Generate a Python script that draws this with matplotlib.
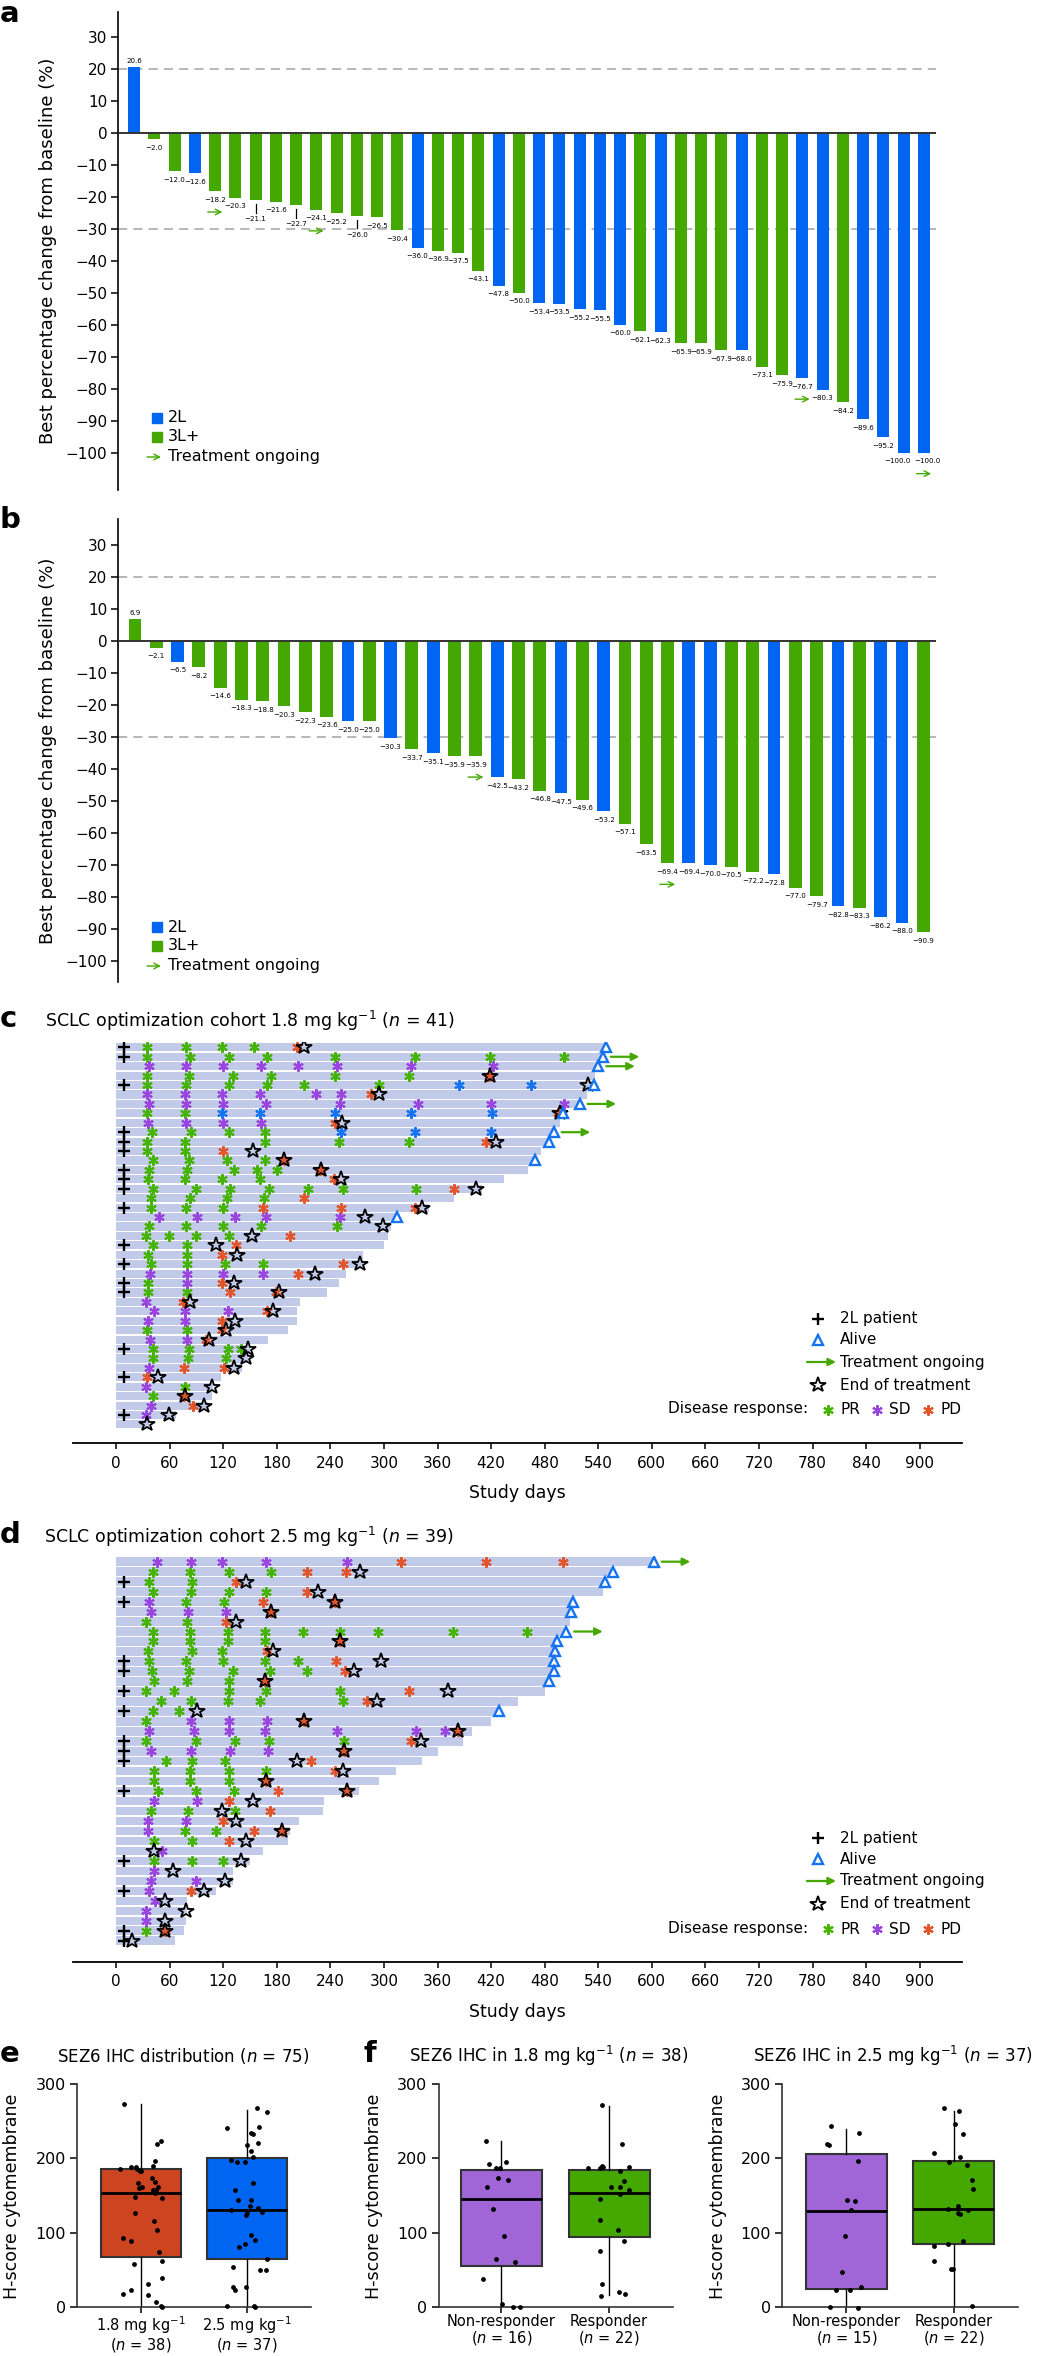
import numpy as np
import matplotlib.pyplot as plt

W, H = 1047, 2356
plt.rcParams['font.family'] = ['DejaVu Sans']
plt.rcParams['mathtext.fontset'] = 'dejavusans'

BLUE = '#0066F2'
GREEN = '#45A800'
LIGHT = '#C2CAE9'
C_PR = '#45B400'
C_SD = '#9A45DE'
C_PD = '#E2552B'
C_CR = '#1673F0'
DASH = '#A3A3A3'
BOX_18 = '#CC4420'
BOX_NR = '#A066D8'

# ---------------- panel a: waterfall, 1.8 mg/kg ----------------
a_values = [20.6, -2.0, -12.0, -12.6, -18.2, -20.3, -21.1, -21.6, -22.7, -24.1,
            -25.2, -26.0, -26.5, -30.4, -36.0, -36.9, -37.5, -43.1, -47.8, -50.0,
            -53.4, -53.5, -55.2, -55.5, -60.0, -62.1, -62.3, -65.9, -65.9, -67.9,
            -68.0, -73.1, -75.9, -76.7, -80.3, -84.2, -89.6, -95.2, -100.0, -100.0]
a_second_line = [0, 3, 14, 18, 20, 21, 22, 23, 24, 26, 30, 33, 34, 36, 37, 38, 39]
a_ongoing = [4, 9, 33, 39]
a_dropped = [6, 8, 11]

# ---------------- panel b: waterfall, 2.5 mg/kg ----------------
b_values = [6.9, -2.1, -6.5, -8.2, -14.6, -18.3, -18.8, -20.3, -22.3, -23.6,
            -25.0, -25.0, -30.3, -33.7, -35.1, -35.9, -35.9, -42.5, -43.2, -46.8,
            -47.5, -49.6, -53.2, -57.1, -63.5, -69.4, -69.4, -70.0, -70.5, -72.2,
            -72.8, -77.0, -79.7, -82.8, -83.3, -86.2, -88.0, -90.9]
b_second_line = [2, 10, 12, 14, 17, 20, 22, 26, 27, 30, 33, 35, 36]
b_ongoing = [16, 25]
b_dropped = []

# ---------------- panel c: swimmer, 1.8 mg/kg ----------------
c_length = [549, 545, 540, 536, 535, 527, 519, 500, 497, 490,
            485, 476, 469, 461, 434, 410, 378, 350, 315, 308,
            305, 300, 277, 276, 257, 250, 236, 206, 203, 203,
            192, 170, 150, 148, 141, 117, 109, 107, 103, 67, 37]
c_second_line = [0, 1, 4, 9, 10, 11, 13, 14, 15, 17, 21, 23, 25, 26, 32, 35, 39]
c_pr = [(0, 35), (0, 78), (0, 119), (0, 155),
        (1, 35), (1, 83), (1, 126), (1, 169), (1, 245), (1, 335), (1, 419), (1, 502),
        (3, 35), (3, 82), (3, 131), (3, 173), (3, 245), (3, 328),
        (4, 35), (4, 78), (4, 127), (4, 169), (4, 211), (4, 295),
        (7, 35), (7, 77),
        (9, 40), (9, 84), (9, 126), (9, 167),
        (10, 35), (10, 77), (10, 167), (10, 250), (10, 328),
        (11, 35), (11, 77),
        (12, 41), (12, 82), (12, 124), (12, 167),
        (13, 37), (13, 80), (13, 132), (13, 158), (13, 180),
        (14, 36), (14, 77), (14, 119), (14, 161),
        (15, 41), (15, 89), (15, 128), (15, 171), (15, 215), (15, 254), (15, 336),
        (16, 39), (16, 83), (16, 124), (16, 166),
        (17, 39), (17, 78), (17, 120),
        (19, 37), (19, 78), (19, 120), (19, 162), (19, 247),
        (20, 34), (20, 59), (20, 90), (20, 126),
        (21, 41), (21, 79),
        (22, 36), (22, 79),
        (23, 39), (23, 79), (23, 122), (23, 164),
        (25, 36),
        (26, 36), (26, 80),
        (30, 35), (30, 79),
        (32, 41), (32, 82), (32, 125), (32, 140),
        (33, 41), (33, 81), (33, 123),
        (36, 77), (37, 41)]
c_sd = [(2, 37), (2, 78), (2, 120), (2, 162), (2, 204), (2, 247), (2, 330), (2, 422),
        (5, 35), (5, 77), (5, 119), (5, 161), (5, 224), (5, 252),
        (6, 37), (6, 78), (6, 120), (6, 168), (6, 251), (6, 338), (6, 420), (6, 502),
        (8, 36), (8, 78), (8, 120), (8, 162),
        (18, 48), (18, 91), (18, 133), (18, 168), (18, 251),
        (24, 38), (24, 80), (24, 120), (24, 165),
        (25, 79), (27, 34), (28, 42), (28, 77), (28, 125), (29, 36), (29, 77),
        (31, 38), (31, 80), (34, 37), (36, 34), (38, 39), (39, 34)]
c_pd = [(0, 203), (3, 418), (5, 286), (7, 495), (8, 245), (10, 414), (11, 120),
        (12, 188), (13, 228), (14, 244), (15, 378), (16, 211), (17, 165), (17, 252),
        (17, 335), (20, 195), (21, 134), (22, 119), (23, 254), (24, 204), (25, 119),
        (26, 128), (26, 179), (27, 75), (28, 169), (29, 119), (30, 119), (31, 101),
        (34, 76), (34, 121), (35, 35), (37, 76), (38, 86)]
c_cr = [(4, 384), (4, 465), (7, 119), (7, 161), (7, 245), (7, 330), (7, 421),
        (9, 252), (9, 335), (9, 420)]
c_eot = [(0, 210), (3, 419), (4, 529), (5, 294), (7, 497), (8, 253), (10, 425),
         (11, 153), (12, 188), (13, 230), (14, 252), (15, 403), (17, 343), (18, 279),
         (19, 299), (20, 152), (21, 112), (22, 135), (23, 273), (24, 223), (25, 132),
         (26, 183), (27, 83), (28, 176), (29, 133), (30, 123), (31, 104), (32, 148),
         (33, 146), (34, 132), (35, 47), (36, 107), (37, 77), (38, 98), (39, 59), (40, 35)]
c_alive = [0, 1, 2, 4, 6, 7, 9, 10, 12, 18]
c_ongoing = [1, 2, 6, 9]

# ---------------- panel d: swimmer, 2.5 mg/kg ----------------
d_length = [602, 556, 547, 545, 512, 510, 508, 504, 494, 492,
            490, 490, 485, 480, 450, 429, 420, 399, 388, 361,
            343, 314, 295, 272, 233, 232, 205, 195, 193, 164,
            150, 131, 131, 112, 80, 80, 78, 76, 66]
d_second_line = [2, 4, 10, 11, 13, 15, 18, 19, 20, 23, 30, 33, 37, 38]
d_pr = [(1, 41), (1, 83), (1, 127), (1, 174),
        (2, 37), (2, 85),
        (3, 41), (3, 84), (3, 126), (3, 168),
        (4, 78), (4, 121),
        (6, 34), (6, 80),
        (7, 41), (7, 83), (7, 125), (7, 167), (7, 209), (7, 251), (7, 293), (7, 377), (7, 460),
        (8, 41), (8, 83), (8, 125), (8, 167),
        (9, 36), (9, 85), (9, 119),
        (10, 37), (10, 78), (10, 120), (10, 167), (10, 204),
        (11, 40), (11, 82), (11, 131), (11, 172), (11, 214),
        (12, 42), (12, 80), (12, 126),
        (13, 34), (13, 65), (13, 127), (13, 168), (13, 251),
        (14, 50), (14, 84), (14, 125), (14, 161), (14, 254),
        (15, 41), (15, 71),
        (16, 34),
        (18, 34), (18, 90), (18, 133), (18, 171), (18, 255),
        (20, 56), (20, 85), (20, 122),
        (21, 42), (21, 83), (21, 126), (21, 168),
        (22, 43), (22, 83), (22, 126),
        (23, 47), (23, 90), (23, 132),
        (25, 39), (25, 81), (25, 133),
        (27, 77), (27, 112),
        (28, 43), (28, 85),
        (30, 43), (30, 85), (30, 120),
        (37, 34)]
d_sd = [(0, 46), (0, 84), (0, 119), (0, 168), (0, 259),
        (4, 37), (5, 39), (5, 81), (5, 123),
        (16, 84), (16, 126), (16, 169),
        (17, 37), (17, 87), (17, 126), (17, 167), (17, 247), (17, 336), (17, 368),
        (19, 39), (19, 84), (19, 128), (19, 170),
        (24, 43), (24, 91), (26, 36), (26, 78), (27, 36), (29, 51),
        (31, 42), (32, 39), (32, 90), (33, 37), (34, 44), (35, 34), (36, 33)]
d_pd = [(0, 319), (0, 414), (0, 500), (1, 214), (1, 257), (2, 134), (3, 214),
        (4, 165), (4, 245), (5, 174), (6, 123), (8, 251), (9, 169), (10, 246),
        (11, 256), (12, 167), (13, 328), (14, 281), (16, 211), (17, 383), (18, 330),
        (19, 255), (20, 218), (21, 245), (22, 168), (23, 181), (23, 259), (24, 126),
        (25, 172), (26, 120), (27, 155), (27, 186), (28, 126), (33, 84), (37, 55)]
d_cr = []
d_eot = [(1, 273), (2, 145), (3, 226), (4, 245), (5, 174), (6, 134), (8, 251),
         (9, 176), (10, 297), (11, 266), (12, 167), (13, 372), (14, 292), (15, 91),
         (16, 211), (17, 383), (18, 342), (19, 255), (20, 203), (21, 254), (22, 168),
         (23, 259), (24, 153), (25, 119), (26, 134), (27, 186), (28, 145), (29, 43),
         (30, 140), (31, 64), (32, 122), (33, 99), (34, 55), (35, 78), (36, 55),
         (37, 55), (38, 18)]
d_alive = [0, 1, 2, 4, 5, 7, 8, 9, 10, 11, 12, 15]
d_ongoing = [0, 7]

# ---------------- panel e / f: SEZ6 H-score ----------------
e_labels = ['1.8 mg kg$^{-1}$\n($n$ = 38)', '2.5 mg kg$^{-1}$\n($n$ = 37)']
e_stats = [dict(q1=67.5, med=153.8, q3=185.4, whislo=0, whishi=273),
           dict(q1=64.8, med=130.5, q3=200.2, whislo=0, whishi=265)]
e18_vals = [274, 219, 224, 186, 188, 189, 186, 183, 196, 190, 174, 167, 168, 160,
            161, 161, 154, 157, 148, 147, 127, 116, 103, 92, 88, 74, 58, 62, 31, 39,
            17, 22, 16, 7, 1, 0, 157, 183]
e18_jit = [-0.158, 0.149, 0.190, -0.190, -0.089, -0.048, -0.032, -0.010, 0.133, 0.117,
           0.111, -0.025, 0.133, -0.016, 0.016, 0.165, 0.133, 0.145, -0.057, 0.196,
           -0.054, 0.127, 0.158, -0.168, -0.089, 0.168, -0.063, 0.200, 0.073, 0.196,
           -0.165, -0.089, 0.073, 0.143, 0.190, 0.200, 0.117, 0.0]
e25_vals = [241, 268, 263, 243, 234, 233, 218, 221, 210, 202, 198, 195, 195, 167,
            157, 144, 144, 136, 133, 130, 128, 124, 127, 97, 90, 80, 84, 64, 49, 49,
            53, 27, 23, 26, 1, 1, 0]
e25_jit = [-0.190, 0.089, 0.190, 0.114, 0.041, 0.051, 0.0, 0.105, 0.041, 0.057,
           -0.149, -0.092, -0.016, 0.051, -0.117, -0.086, 0.041, 0.025, 0.105, -0.149,
           0.143, -0.006, 0.0, 0.032, 0.073, -0.076, -0.016, 0.184, 0.120, 0.177,
           -0.133, -0.133, -0.117, -0.006, -0.190, 0.063, 0.073]

f_labels = ['Non-responder\n($n$ = 16)', 'Responder\n($n$ = 22)']
f18_stats = [dict(q1=54.9, med=144.8, q3=184.4, whislo=0, whishi=224),
             dict(q1=93.6, med=152.9, q3=184.4, whislo=15.7, whishi=271)]
f18_nr_vals = [223, 193, 187, 187, 195, 173, 171, 162, 132, 95, 64, 60, 37, 4, 0, 0]
f18_nr_jit = [-0.144, -0.119, -0.047, -0.016, 0.044, -0.034, 0.063, -0.135, -0.082,
              0.028, -0.050, 0.125, -0.172, 0.006, 0.110, 0.176]
f18_r_vals = [272, 219, 187, 187, 190, 188, 183, 170, 161, 161, 157, 152, 145, 117,
              103, 89, 75, 31, 15, 20, 17, 189]
f18_r_jit = [-0.068, 0.120, -0.194, -0.084, -0.065, 0.184, 0.097, 0.142, 0.013, 0.104,
             0.184, 0.097, -0.084, -0.081, 0.078, 0.142, -0.084, -0.068, -0.074, 0.087,
             0.146, -0.060]

g_labels = ['Non-responder\n($n$ = 15)', 'Responder\n($n$ = 22)']
f25_stats = [dict(q1=24.3, med=129.1, q3=205.6, whislo=0, whishi=239.8),
             dict(q1=84.6, med=132.0, q3=197.0, whislo=0, whishi=264)]
f25_nr_vals = [244, 219.5, 218, 234, 197, 144, 143, 130, 96, 47, 22.5, 23, 26, 0, -2]
f25_nr_jit = [-0.140, -0.179, -0.163, 0.114, 0.104, 0.007, 0.081, 0.039, -0.010,
              -0.042, -0.098, 0.033, 0.137, -0.156, 0.104]
f25_r_vals = [268, 264.5, 246, 233, 208, 202, 195, 191, 171, 159, 136, 132, 130, 126,
              125, 89, 82, 85, 62, 51, 51, 1]
f25_r_jit = [-0.088, 0.055, 0.010, 0.091, -0.186, 0.059, -0.039, 0.130, 0.169, 0.186,
             0.042, -0.055, 0.137, 0.042, 0.059, 0.091, -0.186, -0.049, -0.179, -0.023,
             -0.007, 0.173]


fig = plt.figure(figsize=(W / 100, H / 100), dpi=100)


def px_axes(l, t, r, b):
    return fig.add_axes([l / W, 1 - b / H, (r - l) / W, (b - t) / H])


def fmt(v):
    return f'{v:.1f}'.replace('-', '\u2212')


def waterfall(ax, values, second_line, ongoing, dropped, ylim, shifts=None):
    shifts = shifts or {}
    x = np.arange(len(values))
    cols = [BLUE if i in second_line else GREEN for i in x]
    ax.bar(x, values, width=0.6, color=cols, zorder=2)
    for ref in (20, -30):
        ax.axhline(ref, color=DASH, lw=1.1, dashes=(6, 4), zorder=1)
    ax.axhline(0, color='#333333', lw=1.4, zorder=3)
    for i, v in enumerate(values):
        tx = i + shifts.get(i, 0)
        if v > 0:
            ax.text(tx, v + 1.9, fmt(v), ha='center', va='center', fontsize=5.1)
        elif i in dropped:
            ax.plot([i, i], [v - 1.3, v - 3.9], color='k', lw=0.9)
            ax.text(tx, v - 5.9, fmt(v), ha='center', va='center', fontsize=5.1)
        else:
            ax.text(tx, v - 2.7, fmt(v), ha='center', va='center', fontsize=5.1)
    for i in ongoing:
        v = values[i]
        ax.annotate('', xy=(i + 0.36, v - 6.6), xytext=(i - 0.36, v - 6.6),
                    arrowprops=dict(arrowstyle='->', color=GREEN, lw=1.0,
                                    shrinkA=0, shrinkB=0))
    ax.set_xlim(-0.78, len(values) - 1 + 0.6)
    ax.set_ylim(*ylim)
    ax.set_yticks(np.arange(-100, 31, 10))
    ax.set_xticks([])
    for s in ('top', 'right', 'bottom'):
        ax.spines[s].set_visible(False)
    ax.spines['left'].set_linewidth(1.2)
    ax.tick_params(axis='y', length=5, width=1.1, labelsize=11, pad=3)


def swimmer(ax, lengths, second_line, pr, sd, pdis, cr, eot, alive, ongoing, ybottom):
    rows = np.arange(len(lengths))
    ax.barh(rows, lengths, height=0.86, color=LIGHT, zorder=1)
    ax.plot(np.full(len(second_line), 9), second_line, ls='none', marker='+',
            ms=8, mew=1.7, color='k', zorder=5)
    for pts, col in ((pr, C_PR), (sd, C_SD), (pdis, C_PD), (cr, C_CR)):
        if pts:
            r, d = zip(*pts)
            ax.plot(d, r, ls='none', marker=(6, 2, 0), ms=7.5, mew=1.5,
                    color=col, zorder=3)
    r, d = zip(*eot)
    ax.plot(d, r, ls='none', marker='*', ms=11.5, mfc='none', mec='k', mew=1.3, zorder=4)
    al = np.array(alive)
    ax.plot(np.array(lengths)[al], al, ls='none', marker='^', ms=7, mfc='white',
            mec=C_CR, mew=1.7, zorder=4)
    for r in ongoing:
        L = lengths[r]
        ax.annotate('', xy=(L + 41, r), xytext=(L + 9, r),
                    arrowprops=dict(arrowstyle='-|>', color=GREEN, lw=1.6,
                                    mutation_scale=11, shrinkA=0, shrinkB=0))
    ax.set_xlim(-48, 947)
    ax.set_ylim(ybottom, -0.6)
    ax.set_xticks(np.arange(0, 901, 60))
    ax.set_yticks([])
    for s in ('top', 'right', 'left'):
        ax.spines[s].set_visible(False)
    ax.spines['bottom'].set_linewidth(1.3)
    ax.tick_params(axis='x', length=4, width=1.1, labelsize=11, pad=5)


def boxpanel(ax, stats, colors, vals, jits, labels, xlim):
    bx = ax.bxp(stats, positions=[0, 1], widths=0.75, patch_artist=True,
                showfliers=False, showcaps=False,
                boxprops=dict(linewidth=1.5, edgecolor='#333333'),
                medianprops=dict(color='black', linewidth=2),
                whiskerprops=dict(color='black', linewidth=1.0))
    for patch, c in zip(bx['boxes'], colors):
        patch.set_facecolor(c)
    for i, (v, j) in enumerate(zip(vals, jits)):
        ax.scatter(i + np.array(j), v, s=12, color='black', zorder=4, clip_on=False,
                   linewidths=0)
    ax.set_xlim(*xlim)
    ax.set_ylim(0, 300)
    ax.set_yticks([0, 100, 200, 300])
    ax.set_xticks([0, 1])
    ax.set_xticklabels(labels, fontsize=10.5, linespacing=1.0)
    for s in ('top', 'right'):
        ax.spines[s].set_visible(False)
    for s in ('left', 'bottom'):
        ax.spines[s].set_linewidth(1.2)
        ax.spines[s].set_color('#333333')
    ax.tick_params(axis='y', length=5, width=1.1, labelsize=11.5, pad=3)
    ax.tick_params(axis='x', length=4, width=1.1, pad=1.5)


ax_a = px_axes(118.3, 11.7, 936, 490)
waterfall(ax_a, a_values, a_second_line, a_ongoing, a_dropped, (-111.7, 37.8),
          shifts={38: -0.3, 39: 0.15})
ax_b = px_axes(118.3, 519.3, 936, 982)
waterfall(ax_b, b_values, b_second_line, b_ongoing, b_dropped, (-106.5, 38.0))

ax_c = px_axes(73.2, 1041.7, 961.7, 1443.3)
swimmer(ax_c, c_length, c_second_line, c_pr, c_sd, c_pd, c_cr, c_eot, c_alive,
        c_ongoing, 42.0)
ax_d = px_axes(73.2, 1555.7, 961.7, 1961.7)
swimmer(ax_d, d_length, d_second_line, d_pr, d_sd, d_pd, d_cr, d_eot, d_alive,
        d_ongoing, 40.1)

ax_e = px_axes(77.1, 2084.3, 311, 2306.7)
boxpanel(ax_e, e_stats, [BOX_18, BLUE], [e18_vals, e25_vals], [e18_jit, e25_jit],
         e_labels, (-0.597, 1.6))
ax_f1 = px_axes(438.5, 2084.3, 673.4, 2306.7)
boxpanel(ax_f1, f18_stats, [BOX_NR, GREEN], [f18_nr_vals, f18_r_vals],
         [f18_nr_jit, f18_r_jit], f_labels, (-0.583, 1.596))
ax_f2 = px_axes(781.9, 2084.3, 1018, 2306.7)
boxpanel(ax_f2, f25_stats, [BOX_NR, GREEN], [f25_nr_vals, f25_r_vals],
         [f25_nr_jit, f25_r_jit], g_labels, (-0.602, 1.602))

# overlay in pixel coordinates for letters, titles and legends
ov = fig.add_axes([0, 0, 1, 1], zorder=10)
ov.set_xlim(0, W)
ov.set_ylim(H, 0)
ov.axis('off')
ov.patch.set_alpha(0)

for letter, x, y in (('a', 0, 22), ('b', 0, 528), ('c', 0, 1027), ('d', 0, 1543),
                     ('e', 0, 2062), ('f', 364, 2062)):
    ov.text(x, y, letter, fontsize=21, fontweight='bold', va='baseline', ha='left')

ov.text(45, 1027, 'SCLC optimization cohort 1.8 mg kg$^{-1}$ ($n$ = 41)',
        fontsize=12.5, va='baseline')
ov.text(44, 1543, 'SCLC optimization cohort 2.5 mg kg$^{-1}$ ($n$ = 39)',
        fontsize=12.5, va='baseline')
ov.text(57, 2062, 'SEZ6 IHC distribution ($n$ = 75)', fontsize=12, va='baseline')
ov.text(409, 2062, 'SEZ6 IHC in 1.8 mg kg$^{-1}$ ($n$ = 38)', fontsize=12, va='baseline')
ov.text(753, 2062, 'SEZ6 IHC in 2.5 mg kg$^{-1}$ ($n$ = 37)', fontsize=12, va='baseline')

ov.text(48, 251, 'Best percentage change from baseline (%)', rotation=90,
        fontsize=13, ha='center', va='center')
ov.text(48, 751, 'Best percentage change from baseline (%)', rotation=90,
        fontsize=13, ha='center', va='center')
for x in (12, 374, 718):
    ov.text(x, 2196, 'H-score cytomembrane', rotation=90, fontsize=12.5,
            ha='center', va='center')
ov.text(517, 1493, 'Study days', fontsize=12.5, ha='center', va='center')
ov.text(517, 2012, 'Study days', fontsize=12.5, ha='center', va='center')

# waterfall legends
for y0 in (418, 927):
    ov.plot(156.5, y0, 's', ms=6.5, color=BLUE)
    ov.text(168, y0, '2L', fontsize=11.5, va='center')
    ov.plot(156.5, y0 + 18.5, 's', ms=6.5, color=GREEN)
    ov.text(168, y0 + 18.5, '3L+', fontsize=11.5, va='center')
    ov.annotate('', xy=(161, y0 + 39), xytext=(147, y0 + 39),
                arrowprops=dict(arrowstyle='->', color=GREEN, lw=1.0,
                                shrinkA=0, shrinkB=0))
    ov.text(168, y0 + 38.5, 'Treatment ongoing', fontsize=11.5, va='center')

# swimmer legends
for y0 in (1319, 1838):
    ov.plot(818, y0, ls='none', marker='+', ms=8, mew=1.7, color='k')
    ov.text(840, y0, '2L patient', fontsize=11, va='center')
    ov.plot(818, y0 + 21, ls='none', marker='^', ms=7, mfc='white', mec=C_CR, mew=1.7)
    ov.text(840, y0 + 21, 'Alive', fontsize=11, va='center')
    ov.annotate('', xy=(836, y0 + 43), xytext=(807, y0 + 43),
                arrowprops=dict(arrowstyle='-|>', color=GREEN, lw=1.6,
                                mutation_scale=11, shrinkA=0, shrinkB=0))
    ov.text(840, y0 + 43, 'Treatment ongoing', fontsize=11, va='center')
    ov.plot(818, y0 + 66, ls='none', marker='*', ms=11.5, mfc='none', mec='k', mew=1.3)
    ov.text(840, y0 + 66, 'End of treatment', fontsize=11, va='center')
    ov.text(808, y0 + 90, 'Disease response:', fontsize=11, va='center', ha='right')
    for mx, col, lab in ((828, C_PR, 'PR'), (877, C_SD, 'SD'), (928, C_PD, 'PD')):
        ov.plot(mx, y0 + 91, ls='none', marker=(6, 2, 0), ms=7.5, mew=1.5, color=col)
        ov.text(mx + 12, y0 + 91, lab, fontsize=11, va='center')

fig.savefig('out.png', dpi=100)
